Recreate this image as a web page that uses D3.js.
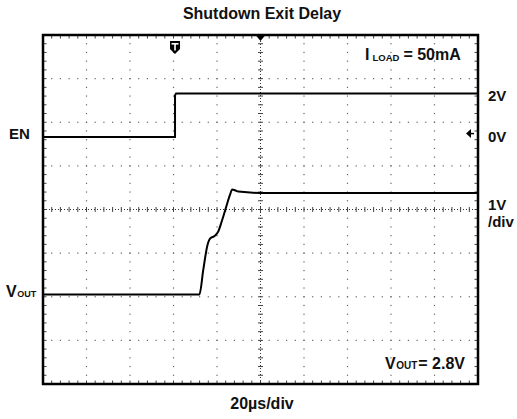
<!DOCTYPE html>
<html>
<head>
<meta charset="utf-8">
<script src="https://cdn.jsdelivr.net/npm/d3@7"></script>
<style>
  body { margin: 0; background: #fff; }
  text { font-family: 'Liberation Sans', Arial, sans-serif; font-weight: bold; fill: #111; }
</style>
</head>
<body>
<div id="chart"></div>
<script>

// Horizontal axis: time from screen centre, µs (20µs/div)
var timeTicks = [-100, -80, -60, -40, -20, 0, 20, 40, 60, 80, 100];
// Vertical axis: graticule divisions
var divTicks = [-4, -3, -2, -1, 0, 1, 2, 3, 4];

// EN trace (2V/div)
var enTime = [-100, -39.3, -39.3, -38.8, 100];
var enVolts = [0, 0, 1.92, 2.0, 2.0];

// VOUT trace (1V/div)
var voutTime = [-100, -28.1, -26.3, -24.5, -23.2, -20.9, -19.4, -17.8, -15.9, -14.0, -13.0, -11.7, -10.2, -0.2, 100];
var voutVolts = [0, 0, 0.57, 1.11, 1.28, 1.35, 1.45, 1.68, 1.99, 2.29, 2.41, 2.39, 2.36, 2.33, 2.33];

// trigger point, µs
var triggerTime = -39.3;

var attrs = {
  svgWidth: 517,
  svgHeight: 419,
  frameLeft: 43,
  frameRight: 478,
  frameTop: 35,
  frameBottom: 384,
  enZeroDiv: 1.66,
  enVoltsPerDiv: 2,
  voutZeroDiv: -1.95,
  voutVoltsPerDiv: 1,
  gridColor: '#666',
  traceColor: '#000'
};

//#########################  SCALES  ########################
var scales = {};

scales.x = d3.scaleLinear()
  .domain([timeTicks[0], timeTicks[timeTicks.length - 1]])
  .range([attrs.frameLeft, attrs.frameRight]);

scales.div = d3.scaleLinear()
  .domain([divTicks[0], divTicks[divTicks.length - 1]])
  .range([attrs.frameBottom, attrs.frameTop]);

// each channel has its own zero level and volts/div
scales.en = d3.scaleLinear()
  .domain([0, attrs.enVoltsPerDiv])
  .range([scales.div(attrs.enZeroDiv), scales.div(attrs.enZeroDiv + 1)]);

scales.vout = d3.scaleLinear()
  .domain([0, attrs.voutVoltsPerDiv])
  .range([scales.div(attrs.voutZeroDiv), scales.div(attrs.voutZeroDiv + 1)]);

var svg = d3.select('#chart').append('svg')
  .attr('width', attrs.svgWidth)
  .attr('height', attrs.svgHeight);

var tStep = (timeTicks[1] - timeTicks[0]) / 5;
var minorTimes = d3.range(timeTicks[0], timeTicks[timeTicks.length - 1] + 0.01, tStep);
var minorDivs = d3.range(divTicks[0], divTicks[divTicks.length - 1] + 0.01, 0.2);

//#########################  GRATICULE  ########################
var grid = svg.append('g').attr('class', 'grid');

// dotted grid lines, one dot per minor division
divTicks.slice(1, -1).filter(d => d !== 0).forEach(function (d) {
  grid.selectAll(null)
    .data(minorTimes)
    .enter().append('rect')
    .attr('x', t => scales.x(t) - 0.6)
    .attr('y', scales.div(d) - 0.6)
    .attr('width', 1.2)
    .attr('height', 1.2)
    .attr('fill', attrs.gridColor);
});

timeTicks.slice(1, -1).filter(t => t !== 0).forEach(function (t) {
  grid.selectAll(null)
    .data(minorDivs)
    .enter().append('rect')
    .attr('x', scales.x(t) - 0.6)
    .attr('y', d => scales.div(d) - 0.6)
    .attr('width', 1.2)
    .attr('height', 1.2)
    .attr('fill', attrs.gridColor);
});

// centre axes, finely dotted with minor ticks
grid.append('line')
  .attr('x1', scales.x.range()[0]).attr('x2', scales.x.range()[1])
  .attr('y1', scales.div(0)).attr('y2', scales.div(0))
  .attr('stroke', '#333').attr('stroke-width', 1)
  .attr('stroke-dasharray', '1,2');

grid.append('line')
  .attr('x1', scales.x(0)).attr('x2', scales.x(0))
  .attr('y1', scales.div.range()[0]).attr('y2', scales.div.range()[1])
  .attr('stroke', '#333').attr('stroke-width', 1)
  .attr('stroke-dasharray', '1,2');

grid.selectAll('.h-tick')
  .data(minorTimes)
  .enter().append('line')
  .attr('class', 'h-tick')
  .attr('x1', t => scales.x(t)).attr('x2', t => scales.x(t))
  .attr('y1', scales.div(0) - 2.5).attr('y2', scales.div(0) + 2.5)
  .attr('stroke', '#444');

grid.selectAll('.v-tick')
  .data(minorDivs)
  .enter().append('line')
  .attr('class', 'v-tick')
  .attr('x1', scales.x(0) - 2.5).attr('x2', scales.x(0) + 2.5)
  .attr('y1', d => scales.div(d)).attr('y2', d => scales.div(d))
  .attr('stroke', '#444');

// edge ticks pointing inwards
grid.selectAll('.top-tick')
  .data(minorTimes)
  .enter().append('line')
  .attr('x1', t => scales.x(t)).attr('x2', t => scales.x(t))
  .attr('y1', attrs.frameTop).attr('y2', attrs.frameTop + 3.5)
  .attr('stroke', '#444');

grid.selectAll('.bottom-tick')
  .data(minorTimes)
  .enter().append('line')
  .attr('x1', t => scales.x(t)).attr('x2', t => scales.x(t))
  .attr('y1', attrs.frameBottom).attr('y2', attrs.frameBottom - 3.5)
  .attr('stroke', '#444');

grid.selectAll('.left-tick')
  .data(minorDivs)
  .enter().append('line')
  .attr('x1', attrs.frameLeft).attr('x2', attrs.frameLeft + 3.5)
  .attr('y1', d => scales.div(d)).attr('y2', d => scales.div(d))
  .attr('stroke', '#444');

grid.selectAll('.right-tick')
  .data(minorDivs)
  .enter().append('line')
  .attr('x1', attrs.frameRight).attr('x2', attrs.frameRight - 3.5)
  .attr('y1', d => scales.div(d)).attr('y2', d => scales.div(d))
  .attr('stroke', '#444');

//#########################  TRACES  ########################
var enLine = d3.line()
  .x((d, i) => scales.x(enTime[i]))
  .y(d => scales.en(d));

var voutLine = d3.line()
  .x((d, i) => scales.x(voutTime[i]))
  .y(d => scales.vout(d))
  .curve(d3.curveMonotoneX);

svg.append('path')
  .attr('d', enLine(enVolts))
  .attr('fill', 'none')
  .attr('stroke', attrs.traceColor)
  .attr('stroke-width', 2);

svg.append('path')
  .attr('d', voutLine(voutVolts))
  .attr('fill', 'none')
  .attr('stroke', attrs.traceColor)
  .attr('stroke-width', 2);

// frame
svg.append('rect')
  .attr('x', attrs.frameLeft)
  .attr('y', attrs.frameTop)
  .attr('width', attrs.frameRight - attrs.frameLeft)
  .attr('height', attrs.frameBottom - attrs.frameTop)
  .attr('fill', 'none')
  .attr('stroke', '#000')
  .attr('stroke-width', 2.5);

//#########################  MARKERS  ########################
// trigger position at screen centre
var cx = scales.x(0);
svg.append('path')
  .attr('d', 'M' + (cx - 5) + ',' + attrs.frameTop + 'h10l-5,6z')
  .attr('fill', '#000');

// trigger "T" badge
var tx = scales.x(triggerTime);
svg.append('path')
  .attr('d', 'M' + (tx - 5) + ',41h10v8l-5,5l-5,-5z')
  .attr('fill', '#000');
svg.append('rect').attr('x', tx - 3.5).attr('y', 43).attr('width', 7).attr('height', 1.6).attr('fill', '#fff');
svg.append('rect').attr('x', tx - 0.8).attr('y', 43).attr('width', 1.6).attr('height', 7.5).attr('fill', '#fff');

// EN ground marker on right edge
var gy = scales.en(0) - 3.5;
svg.append('path')
  .attr('d', 'M' + (attrs.frameRight - 12) + ',' + gy + 'l5,-4.5v9z')
  .attr('fill', '#000');
svg.append('line')
  .attr('x1', attrs.frameRight - 8).attr('x2', attrs.frameRight - 4)
  .attr('y1', gy).attr('y2', gy)
  .attr('stroke', '#000').attr('stroke-width', 1.5);

//#########################  TEXTS  ########################
svg.append('text')
  .attr('x', 262).attr('y', 19)
  .attr('text-anchor', 'middle')
  .attr('font-size', 16)
  .text('Shutdown Exit Delay');

svg.append('text')
  .attr('x', 262).attr('y', 409)
  .attr('text-anchor', 'middle')
  .attr('font-size', 16)
  .text('20µs/div');

svg.append('text')
  .attr('x', 9).attr('y', 139)
  .attr('font-size', 15)
  .text('EN');

var vLabel = svg.append('text')
  .attr('x', 6).attr('y', 297)
  .attr('font-size', 16);
vLabel.append('tspan').text('V');
vLabel.append('tspan').attr('font-size', 9).attr('dx', 0.5).text('OUT');

var iLoad = svg.append('text')
  .attr('x', 365).attr('y', 60)
  .attr('font-size', 16);
iLoad.append('tspan').text('I');
iLoad.append('tspan').attr('font-size', 9.5).attr('dx', 3).attr('dy', 1).text('LOAD');
iLoad.append('tspan').attr('dx', 4).attr('dy', -1).text('= 50mA');

var vOut = svg.append('text')
  .attr('x', 385).attr('y', 369)
  .attr('font-size', 16);
vOut.append('tspan').text('V');
vOut.append('tspan').attr('font-size', 10).attr('dx', 0.5).text('OUT');
vOut.append('tspan').attr('dx', 1).text('= 2.8V');

var rightLabels = [
  { text: '2V', y: 101 },
  { text: '0V', y: 142 },
  { text: '1V', y: 210 },
  { text: '/div', y: 227 }
];
svg.selectAll('.right-label')
  .data(rightLabels)
  .enter().append('text')
  .attr('class', 'right-label')
  .attr('x', 488)
  .attr('y', d => d.y)
  .attr('font-size', 15)
  .text(d => d.text);

</script>
</body>
</html>
